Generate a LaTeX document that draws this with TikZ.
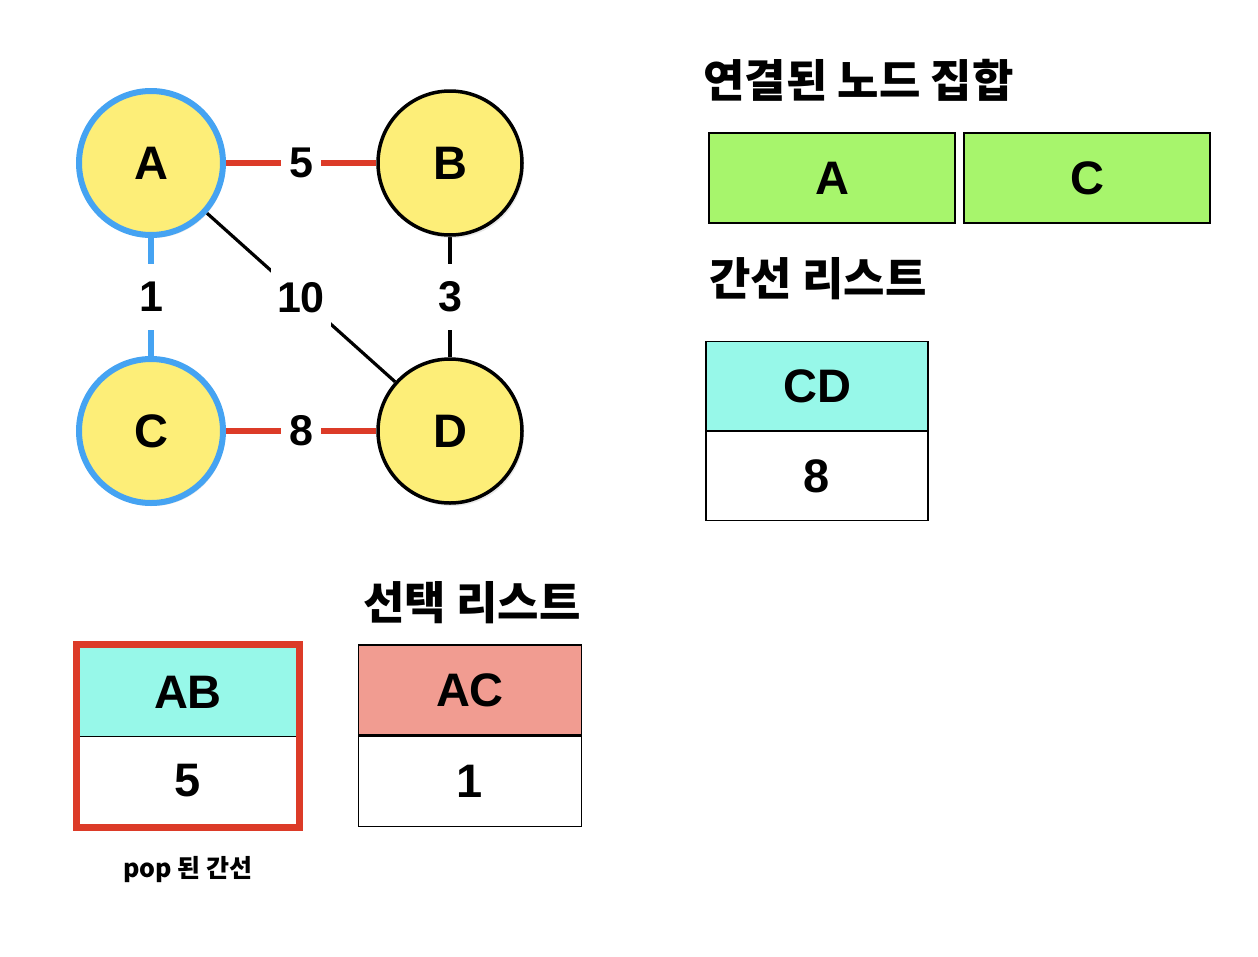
\documentclass[tikz,border=0pt]{standalone}
\usepackage{fontspec}
\setmainfont{Liberation Sans}
\newfontfamily\kr{Noto Sans CJK KR}
\usetikzlibrary{backgrounds,fit,shadows,positioning}
\definecolor{nodeyellow}{HTML}{FDEE78}
\definecolor{visitblue}{HTML}{45A3F2}
\definecolor{edgered}{HTML}{DC3B28}
\definecolor{setgreen}{HTML}{A7F56C}
\definecolor{cellcyan}{HTML}{97F8E9}
\definecolor{cellsalmon}{HTML}{F19C91}
\tikzset{
  gnode/.style={circle, minimum size=144pt, inner sep=0pt, fill=nodeyellow,
    font=\fontsize{47}{47}\selectfont\bfseries,
    drop shadow={opacity=0.18, shadow xshift=2pt, shadow yshift=-3pt}},
  visited/.style={gnode, draw=visitblue, line width=6pt},
  plain/.style={gnode, draw=black, line width=3.5pt},
  rededge/.style={draw=edgered, line width=6pt},
  blueedge/.style={draw=visitblue, line width=6pt},
  blackedge/.style={draw=black, line width=3.2pt},
  elabel/.style={fill=white, inner sep=0pt, minimum height=66pt, minimum width=40pt,
    font=\fontsize{43}{43}\selectfont\bfseries},
  setcell/.style={draw=black, line width=1.4pt, fill=setgreen, minimum width=246pt,
    minimum height=90pt, inner sep=0pt, font=\fontsize{47}{47}\selectfont\bfseries},
  cell/.style={draw=black, line width=1.3pt, minimum width=222pt, minimum height=89pt,
    inner sep=0pt, font=\fontsize{47}{47}\selectfont\bfseries},
  title/.style={anchor=west, inner sep=0pt, font=\kr\bfseries\fontsize{45}{45}\selectfont},
  caption/.style={inner sep=0pt, font=\kr\bfseries\fontsize{25}{25}\selectfont},
}
\begin{document}
\begin{tikzpicture}[x=1pt,y=-1pt]
\useasboundingbox (0,0) rectangle (1258,956);
% graph
\node[visited] (A) at (151,163) {A};
\node[plain] (B) at (450,163) {B};
\node[visited] (C) at (151,431) {C};
\node[plain] (D) at (450,431) {D};
\begin{scope}[on background layer]
  \draw[rededge] (A) -- (B) node[elabel, midway] (l5) {5};
  \draw[rededge] (C) -- (D) node[elabel, midway] (l8) {8};
  \draw[blueedge] (A) -- (C) node[elabel, midway, minimum width=60pt] (l1) {1};
  \draw[blackedge] (B) -- (D) node[elabel, midway, minimum width=60pt] (l3) {3};
  \draw[blackedge] (A) -- (D) node[elabel, pos=0.5, minimum width=60pt] (l10) {10};
\end{scope}
% connected node set
\node[title] (t1) at (703,80) {연결된 노드 집합};
\node[setcell] (sA) at (832,178) {A};
\node[setcell] (sC) at (1087,178) {C};
% edge list
\node[title] (t2) at (709,279) {간선 리스트};
\node[cell, fill=cellcyan] (cd) at (817,386) {CD};
\node[cell, anchor=north] (cd8) at (cd.south) {8};
% popped edge
\node[cell, fill=cellcyan, draw=none, minimum width=216pt, minimum height=88pt] (ab) at (188,692) {AB};
\node[cell, draw=none, minimum width=216pt, minimum height=87pt, anchor=north] (ab5) at (ab.south) {5};
\draw[black, line width=1.3pt] (ab.south west) -- (ab.south east);
\node[draw=edgered, line width=7pt, inner sep=2.5pt, fit=(ab)(ab5)] (popbox) {};
\node[caption] (cap) at (188,870) {pop 된 간선};
% selected list
\node[title] (t3) at (363,603) {선택 리스트};
\node[cell, fill=cellsalmon, minimum width=223pt, minimum height=90pt] (ac) at (470,690) {AC};
\node[cell, minimum width=223pt, minimum height=90pt, anchor=north] (ac1) at (ac.south) {1};
\end{tikzpicture}
\end{document}
